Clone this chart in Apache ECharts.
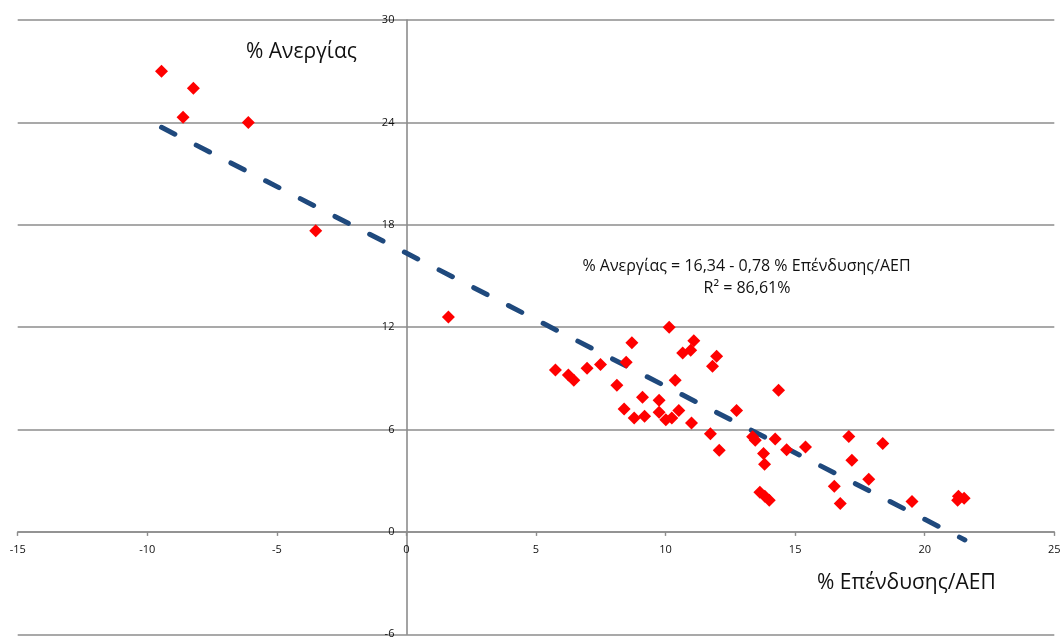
<!DOCTYPE html>
<html>
<head>
<meta charset="utf-8">
<script src="https://cdn.jsdelivr.net/npm/echarts@6/dist/echarts.min.js"></script>
<style>
html,body{margin:0;padding:0;background:#fff;}
#chart{width:1060px;height:637px;}
</style>
</head>
<body>
<div id="chart"></div>
<script>
// % Επένδυσης/ΑΕΠ (x) and % Ανεργίας (y)
const investX = [-9.45, -8.22, -8.62, -6.10, -3.50, 1.62,
  10.14, 8.70, 11.09, 10.66, 10.97, 11.97, 11.81, 5.75, 6.25, 6.46, 6.97, 7.49, 8.48, 8.12,
  10.37, 9.11, 9.75, 8.40, 8.79, 9.19, 9.75, 10.01, 10.24, 10.51, 11.00, 12.74, 14.36, 11.73,
  12.07, 13.36, 13.46, 14.23, 14.67, 13.78, 13.82, 13.64, 13.83, 14.00, 15.40, 17.07, 18.38,
  17.19, 17.84, 16.51, 16.74, 19.51, 21.30, 21.52, 21.27];
const unempY = [27.0, 26.0, 24.3, 24.0, 17.65, 12.6,
  11.99, 11.08, 11.21, 10.49, 10.64, 10.29, 9.71, 9.49, 9.20, 8.89, 9.59, 9.81, 9.94, 8.59,
  8.89, 7.89, 7.71, 7.21, 6.68, 6.78, 7.01, 6.58, 6.68, 7.11, 6.39, 7.11, 8.30, 5.76,
  4.78, 5.57, 5.37, 5.45, 4.82, 4.59, 3.96, 2.32, 2.09, 1.85, 4.98, 5.59, 5.18,
  4.20, 3.08, 2.67, 1.66, 1.78, 2.09, 1.97, 1.85];
// trend line end points
const trendX = [-9.45, 21.55];
const trendY = [23.71, -0.47];
const xTicks = {min: -15, max: 25, step: 5};
const yTicks = {min: -6, max: 30, step: 6};
const yTitle = '% Ανεργίας';
const xTitle = '% Επένδυσης/ΑΕΠ';
const eqLine1 = '% Ανεργίας = 16,34 - 0,78 % Επένδυσης/ΑΕΠ';
const eqLine2 = 'R² = 86,61%';

const points = investX.map((x, i) => [x, unempY[i]]);
const trend = trendX.map((x, i) => [x, trendY[i]]);

const FONT = '"Open Sans", "DejaVu Sans", sans-serif';
const GRID_COLOR = '#8c8c8c';
const W = 1060, H = 637;
const G = {left: 17.7, right: 5.7, top: 20, bottom: 2.7};
const gw = W - G.left - G.right, gh = H - G.top - G.bottom;
// move each axis (line, ticks, labels) to the zero of the other axis
const xAxisOffset = -((0 - yTicks.min) / (yTicks.max - yTicks.min)) * gh;
const yAxisOffset = -((0 - xTicks.min) / (xTicks.max - xTicks.min)) * gw;

const chart = echarts.init(document.getElementById('chart'), null, {renderer: 'canvas'});
chart.setOption({
  animation: false,
  backgroundColor: '#ffffff',
  grid: {left: G.left, right: G.right, top: G.top, bottom: G.bottom, containLabel: false, outerBoundsMode: 'none'},
  xAxis: {
    type: 'value', min: xTicks.min, max: xTicks.max, interval: xTicks.step,
    position: 'bottom', offset: xAxisOffset,
    axisLine: {show: true, onZero: false, lineStyle: {color: GRID_COLOR, width: 1.6}},
    axisTick: {show: true, length: 4, lineStyle: {color: GRID_COLOR, width: 1.4}},
    axisLabel: {show: true, margin: 12, fontSize: 11, color: '#111', fontFamily: FONT,
      showMinLabel: true, showMaxLabel: true, hideOverlap: false},
    splitLine: {show: false}
  },
  yAxis: {
    type: 'value', min: yTicks.min, max: yTicks.max, interval: yTicks.step,
    position: 'left', offset: yAxisOffset,
    axisLine: {show: true, onZero: false, lineStyle: {color: GRID_COLOR, width: 1.6}},
    axisTick: {show: false},
    axisLabel: {show: true, margin: 12, fontSize: 11, color: '#111', fontFamily: FONT,
      showMinLabel: true, showMaxLabel: true, hideOverlap: false},
    splitLine: {show: true, lineStyle: {color: GRID_COLOR, width: 1.6}}
  },
  series: [
    {
      type: 'line', data: trend, symbol: 'none', silent: true, z: 3,
      lineStyle: {color: '#1f497d', width: 5, type: [15, 24], cap: 'round'}
    },
    {
      type: 'scatter', data: points, symbol: 'diamond', symbolSize: 13, z: 4,
      itemStyle: {color: '#ff0000', opacity: 1}
    }
  ],
  graphic: [
    {type: 'text', left: 246, top: 42, style: {text: yTitle, font: '21px ' + FONT, fill: '#111'}},
    {type: 'text', left: 817, top: 573, style: {text: xTitle, font: '21px ' + FONT, fill: '#111'}},
    {type: 'text', x: 746.5, y: 266, style: {text: eqLine1, font: '16px ' + FONT, fill: '#111',
      textAlign: 'center', textVerticalAlign: 'middle'}},
    {type: 'text', x: 747, y: 288.5, style: {text: eqLine2, font: '16px ' + FONT, fill: '#111',
      textAlign: 'center', textVerticalAlign: 'middle'}}
  ]
});
</script>
</body>
</html>
